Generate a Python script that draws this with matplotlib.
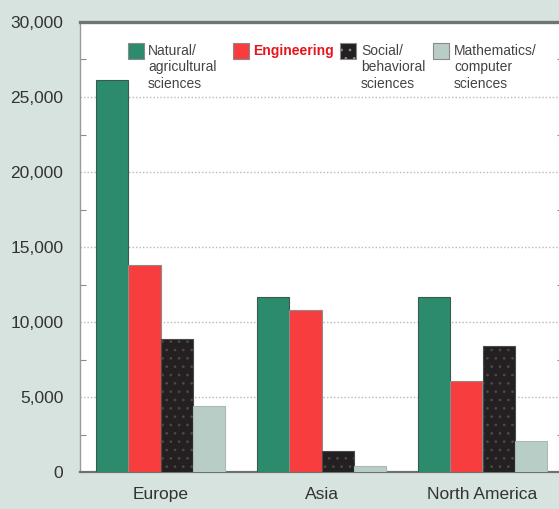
import matplotlib
matplotlib.use("Agg")
import matplotlib.pyplot as plt
import numpy as np
from matplotlib.patches import Rectangle
from matplotlib.ticker import FuncFormatter, MultipleLocator

plt.rcParams['font.family'] = ['Liberation Sans', 'DejaVu Sans']
plt.rcParams['hatch.linewidth'] = 0.7

regions = ["Europe", "Asia", "North America"]
fields = ["Natural/\nagricultural\nsciences", "Engineering",
          "Social/\nbehavioral\nsciences", "Mathematics/\ncomputer\nsciences"]
natural = [26100, 11700, 11700]
engineering = [13800, 10800, 6100]
social = [8900, 1400, 8400]
math_cs = [4400, 400, 2100]

series = [natural, engineering, social, math_cs]
colors = ["#2d8b6d", "#f73d3d", "#242021", "#b9cdc7"]
hatches = [None, None, "..", None]
edge = ["#3a5a4e", "#8c8c8c", "#4a4a4a", "#a9b9b4"]

bg = "#d6e3df"
fig = plt.figure(figsize=(5.59, 5.09), dpi=100, facecolor=bg)
ax = fig.add_axes([80 / 559, 37 / 509, 483 / 559, 450 / 509])
ax.set_facecolor("white")

x = np.arange(len(regions))
width = 0.2
offsets = [-0.3, -0.1, 0.1, 0.3]
for vals, c, h, ec, off in zip(series, colors, hatches, edge, offsets):
    ax.bar(x + off, vals, width=width, color=c, edgecolor=ec,
           linewidth=0.8, hatch=h, zorder=3)

ax.set_xlim(-0.5, 2.5)
ax.set_ylim(0, 30000)

ax.yaxis.set_major_locator(MultipleLocator(5000))
ax.yaxis.set_minor_locator(MultipleLocator(2500))
ax.yaxis.set_major_formatter(FuncFormatter(lambda v, p: f"{int(v):,}"))
ax.tick_params(axis="y", which="major", length=0, pad=12, labelsize=12.5,
               labelcolor="#333333")
ax.tick_params(axis="y", which="minor", length=4, width=0.8, direction="in",
               color="#8a8a8a", right=True)
ax.set_xticks(x)
ax.set_xticklabels(regions)
ax.tick_params(axis="x", length=0, pad=11, labelsize=12.5, labelcolor="#333333")

ax.yaxis.grid(True, which="major", linestyle=(0, (1, 1.5)), color="#b8b8b8",
              linewidth=1.0, zorder=0)

ax.spines["top"].set_color("#6f7573")
ax.spines["top"].set_linewidth(2.4)
ax.spines["left"].set_color("#9a9a9a")
ax.spines["left"].set_linewidth(1.0)
ax.spines["bottom"].set_color("#707070")
ax.spines["bottom"].set_linewidth(1.6)
ax.spines["right"].set_visible(False)

# Legend drawn as square swatches with wrapped labels beside them
trans = ax.transAxes
ax_w, ax_h = 483.0, 450.0
base = 472.0
sw_x = [128, 233, 340, 433]
tx_x = [148, 253, 361, 454]
for i in range(4):
    x0 = (sw_x[i] - 80) / ax_w
    y0 = (base - 59) / ax_h
    ax.add_patch(Rectangle((x0, y0), 16 / ax_w, 16 / ax_h, transform=trans,
                           facecolor=colors[i], edgecolor="#8a8a8a",
                           linewidth=0.8, hatch=hatches[i], zorder=5, clip_on=False))
    is_eng = i == 1
    ax.text((tx_x[i] - 80) / ax_w, (base - 44) / ax_h, fields[i], transform=trans,
            ha="left", va="top", fontsize=10, linespacing=1.22,
            color="#e8141b" if is_eng else "#444444",
            fontweight="bold" if is_eng else "normal", zorder=6)

fig.savefig("out.png", dpi=100, facecolor=bg)
